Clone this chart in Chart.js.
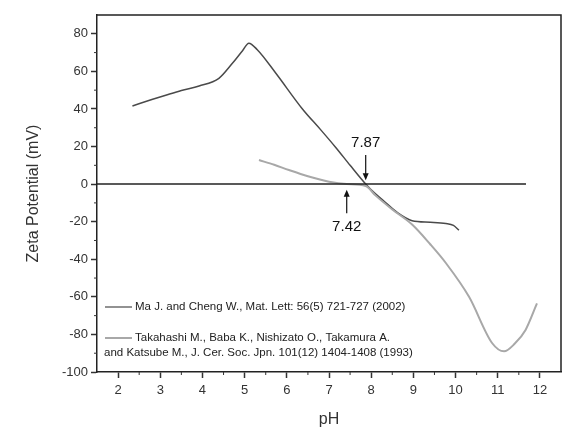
<!DOCTYPE html>
<html lang="en">
<head>
    <meta charset="UTF-8">
    <title>Zeta Potential vs pH</title>
    <script src="https://cdn.jsdelivr.net/npm/chart.js@4.4.0/dist/chart.umd.min.js"></script>
    <style>
        body { margin: 0; background: #fff; }
        #wrap { width: 563px; height: 434px; }
    </style>
</head>
<body>
    <div id="wrap"><canvas id="zetaChart"></canvas></div>

    <script>
        // Ma J. and Cheng W. (dark curve)
        const maPH   = [2.34, 2.8, 3.13, 3.5, 3.92, 4.39, 4.71, 4.95, 5.1, 5.3, 5.74, 6.37, 6.8, 7.16, 7.5, 7.87, 8.0, 8.3, 8.64, 8.97, 9.4, 9.77, 9.95, 10.08];
        const maZeta = [41.6, 45, 47.3, 49.8, 52.2, 56.3, 64.3, 71, 75, 71.5, 59, 40, 29, 19.5, 10, 0, -3, -9, -15.5, -19.5, -20.3, -21, -22, -24.5];

        // Takahashi M. et al. (light curve)
        const takPH   = [5.34, 5.7, 6.05, 6.5, 7.0, 7.42, 7.87, 8.1, 8.5, 8.97, 9.4, 9.77, 10.32, 10.87, 11.15, 11.4, 11.66, 11.93];
        const takZeta = [12.8, 10.3, 7.5, 4.2, 1.3, 0, -1, -6, -13.5, -21.5, -32, -42, -60, -84.7, -89, -85, -77.6, -63.5];

        // zero reference line
        const zeroPH   = [1.5, 11.67];
        const zeroZeta = [0, 0];

        // tick values
        const xMajor = [2, 3, 4, 5, 6, 7, 8, 9, 10, 11, 12];
        const xMinor = [2.5, 3.5, 4.5, 5.5, 6.5, 7.5, 8.5, 9.5, 10.5, 11.5];
        const yMajor = [-100, -80, -60, -40, -20, 0, 20, 40, 60, 80];
        const yMinor = [-90, -70, -50, -30, -10, 10, 30, 50, 70];

        // isoelectric points marked with arrows
        const iepLabels = ['7.87', '7.42'];
        const iepPH     = [7.87, 7.42];

        const legendLabels = [
            ['Ma J. and Cheng W., Mat. Lett: 56(5) 721-727 (2002)'],
            ['Takahashi M., Baba K., Nishizato O., Takamura A.',
             'and Katsube M., J. Cer. Soc. Jpn. 101(12) 1404-1408 (1993)']
        ];

        const toPoints = (xs, ys) => xs.map((x, i) => ({ x: x, y: ys[i] }));

        const DARK = '#4a4a4a';
        const LIGHT = '#a8a8a8';
        const FONT = '"Liberation Sans", Arial, sans-serif';

        // frame, minor ticks, arrows and the hand-placed legend
        const extrasPlugin = {
            id: 'extras',
            afterDraw(chart) {
                const ctx = chart.ctx;
                const a = chart.chartArea;
                const xs = chart.scales.x;
                const ys = chart.scales.y;
                ctx.save();

                // top / right frame
                ctx.strokeStyle = '#222';
                ctx.lineWidth = 1.5;
                ctx.beginPath();
                ctx.moveTo(a.left, a.top);
                ctx.lineTo(a.right, a.top);
                ctx.lineTo(a.right, a.bottom);
                ctx.stroke();

                // minor ticks
                ctx.lineWidth = 1;
                ctx.strokeStyle = '#333';
                ctx.beginPath();
                xMinor.forEach(v => {
                    const px = xs.getPixelForValue(v);
                    ctx.moveTo(px, a.bottom);
                    ctx.lineTo(px, a.bottom + 3);
                });
                yMinor.forEach(v => {
                    const py = ys.getPixelForValue(v);
                    ctx.moveTo(a.left, py);
                    ctx.lineTo(a.left - 3, py);
                });
                ctx.stroke();

                // arrows
                ctx.fillStyle = '#111';
                ctx.strokeStyle = '#111';
                ctx.lineWidth = 1.2;
                ctx.font = '15px ' + FONT;
                ctx.textAlign = 'center';
                ctx.textBaseline = 'middle';

                // 7.87: label above, arrow pointing down
                let px = xs.getPixelForValue(iepPH[0]);
                let y1 = ys.getPixelForValue(15.5), y2 = ys.getPixelForValue(2);
                ctx.fillText(iepLabels[0], px, ys.getPixelForValue(22));
                ctx.beginPath(); ctx.moveTo(px, y1); ctx.lineTo(px, y2 - 4); ctx.stroke();
                ctx.beginPath(); ctx.moveTo(px, y2); ctx.lineTo(px - 3, y2 - 7); ctx.lineTo(px + 3, y2 - 7); ctx.closePath(); ctx.fill();

                // 7.42: label below, arrow pointing up
                px = xs.getPixelForValue(iepPH[1]);
                y1 = ys.getPixelForValue(-15.5); y2 = ys.getPixelForValue(-3);
                ctx.fillText(iepLabels[1], px, ys.getPixelForValue(-22.5));
                ctx.beginPath(); ctx.moveTo(px, y1); ctx.lineTo(px, y2 + 4); ctx.stroke();
                ctx.beginPath(); ctx.moveTo(px, y2); ctx.lineTo(px - 3, y2 + 7); ctx.lineTo(px + 3, y2 + 7); ctx.closePath(); ctx.fill();

                // legend
                ctx.font = '11.5px ' + FONT;
                ctx.textAlign = 'left';
                ctx.fillStyle = '#222';
                const lx = a.left + 8;
                let ly = 307;
                ctx.lineWidth = 1.2;
                ctx.strokeStyle = DARK;
                ctx.beginPath(); ctx.moveTo(lx, ly); ctx.lineTo(lx + 27, ly); ctx.stroke();
                ctx.fillText(legendLabels[0][0], lx + 30, ly);

                ly = 338;
                ctx.lineWidth = 2;
                ctx.strokeStyle = LIGHT;
                ctx.beginPath(); ctx.moveTo(lx, ly); ctx.lineTo(lx + 27, ly); ctx.stroke();
                ctx.fillText(legendLabels[1][0], lx + 30, ly);
                ctx.fillText(legendLabels[1][1], lx - 1, ly + 15);

                ctx.restore();
            }
        };

        new Chart(document.getElementById('zetaChart'), {
            type: 'line',
            data: {
                datasets: [
                    {
                        label: 'zero',
                        data: toPoints(zeroPH, zeroZeta),
                        borderColor: '#222',
                        borderWidth: 1.5,
                        pointRadius: 0
                    },
                    {
                        label: legendLabels[1].join(' '),
                        data: toPoints(takPH, takZeta),
                        borderColor: LIGHT,
                        borderWidth: 2,
                        pointRadius: 0,
                        cubicInterpolationMode: 'monotone'
                    },
                    {
                        label: legendLabels[0][0],
                        data: toPoints(maPH, maZeta),
                        borderColor: DARK,
                        borderWidth: 1.5,
                        pointRadius: 0,
                        cubicInterpolationMode: 'monotone'
                    }
                ]
            },
            options: {
                responsive: true,
                maintainAspectRatio: false,
                animation: false,
                layout: { padding: { top: 15, right: 2, left: 0, bottom: 0 } },
                plugins: {
                    legend: { display: false },
                    tooltip: { enabled: false }
                },
                scales: {
                    x: {
                        type: 'linear',
                        min: 1.5,
                        max: 12.5,
                        afterBuildTicks: s => { s.ticks = xMajor.map(v => ({ value: v })); },
                        afterFit: s => { s.height = 62; },
                        grid: { drawOnChartArea: false, tickLength: 6, tickWidth: 1.5, tickColor: '#333' },
                        border: { color: '#222', width: 1.5 },
                        ticks: { padding: 5, color: '#333', font: { family: FONT, size: 13 }, maxRotation: 0 },
                        title: { display: true, text: 'pH', color: '#333', font: { family: FONT, size: 16 }, padding: { top: 0, bottom: 5 } }
                    },
                    y: {
                        min: -100,
                        max: 90,
                        afterBuildTicks: s => { s.ticks = yMajor.map(v => ({ value: v })); },
                        afterFit: s => { s.width = 97; },
                        grid: { drawOnChartArea: false, tickLength: 6, tickWidth: 1.5, tickColor: '#333' },
                        border: { color: '#222', width: 1.5 },
                        ticks: { padding: 3, color: '#333', font: { family: FONT, size: 13 } },
                        title: { display: true, text: 'Zeta Potential (mV)', color: '#333', font: { family: FONT, size: 16 }, padding: { top: 24, bottom: 0 } }
                    }
                }
            },
            plugins: [extrasPlugin]
        });
    </script>
</body>
</html>
